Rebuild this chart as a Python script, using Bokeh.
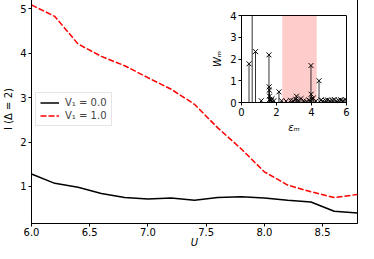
from bokeh.plotting import figure
from bokeh.models import GridBox, Legend, LegendItem, BoxAnnotation, FixedTicker, ColumnDataSource, Range1d, NumeralTickFormatter
from bokeh.embed import file_html
from bokeh.resources import INLINE

# ---------------- data ----------------
U = [6.0, 6.2, 6.4, 6.6, 6.8, 7.0, 7.2, 7.4, 7.6, 7.8, 8.0, 8.2, 8.4, 8.6, 8.8]
I_V0 = [1.28, 1.07, 0.98, 0.84, 0.75, 0.72, 0.74, 0.69, 0.75, 0.77, 0.74, 0.69, 0.65, 0.44, 0.40]
I_V1 = [5.09, 4.83, 4.21, 3.93, 3.72, 3.45, 3.19, 2.85, 2.32, 1.85, 1.33, 1.03, 0.88, 0.75, 0.82]
labels = ["V\u2081 = 0.0", "V\u2081 = 1.0"]
x_ticks = [6.0, 6.5, 7.0, 7.5, 8.0, 8.5]
y_ticks = [1, 2, 3, 4, 5]

eps_m = [0.43, 0.61, 0.80, 1.13, 1.57, 1.58, 1.59, 1.60, 1.61, 1.70, 1.75, 1.85,
         2.14, 2.29, 2.55, 2.80, 2.95, 3.10, 3.14, 3.25, 3.40, 3.55, 3.70, 3.85,
         3.97, 3.98, 4.02, 4.10, 4.25, 4.43, 4.55, 4.65, 4.80, 4.92, 5.05, 5.18,
         5.30, 5.42, 5.55, 5.68, 5.80, 5.92]
W_m = [1.78, 4.60, 2.34, 0.08, 2.19, 0.72, 0.57, 0.29, 0.14, 0.10, 0.18, 0.08,
       0.49, 0.08, 0.06, 0.10, 0.08, 0.15, 0.29, 0.10, 0.18, 0.08, 0.05, 0.12,
       1.70, 0.38, 0.15, 0.20, 0.06, 1.00, 0.12, 0.06, 0.10, 0.12, 0.08, 0.10,
       0.14, 0.07, 0.10, 0.12, 0.09, 0.14]
shade_lo, shade_hi = 2.33, 4.30
inset_x_ticks = [0, 2, 4, 6]
inset_y_ticks = [0, 1, 2, 3, 4]

FONT = "DejaVu Sans"

def style_axes(fig, fs="10px"):
    for ax in fig.axis:
        ax.major_label_text_font = FONT
        ax.major_label_text_font_size = fs
        ax.major_label_text_color = "black"
        ax.axis_label_text_font = FONT
        ax.axis_label_text_font_size = fs
        ax.axis_label_text_color = "black"
        ax.axis_line_color = "black"
        ax.major_tick_line_color = "black"
        ax.minor_tick_line_color = None
        ax.major_tick_out = 3
        ax.major_tick_in = 0
        ax.major_label_standoff = 2
        ax.axis_label_standoff = 3
    fig.xgrid.grid_line_color = None
    fig.ygrid.grid_line_color = None
    fig.outline_line_color = "black"
    fig.outline_line_width = 1
    fig.outline_line_alpha = 1

# ---------------- main figure ----------------
W, H = 358, 257
ymin, ymax = min(I_V0 + I_V1), max(I_V0 + I_V1)
pad = 0.05 * (ymax - ymin)
p = figure(width=W, height=H, output_backend="svg", toolbar_location=None,
           x_range=Range1d(U[0], U[-1]), y_range=Range1d(ymin - pad, ymax + pad),
           min_border_left=22, min_border_right=1, min_border_top=1, min_border_bottom=10)
p.xaxis.ticker = FixedTicker(ticks=x_ticks)
p.yaxis.ticker = FixedTicker(ticks=y_ticks)
p.xaxis.formatter = NumeralTickFormatter(format="0.0")
p.xaxis.axis_label = "U"
p.yaxis.axis_label = "I (\u0394 = 2)"
style_axes(p)
p.xaxis.major_label_standoff = 1
p.xaxis.axis_label_standoff = -2
p.xaxis.axis_label_text_font_style = "italic"
p.yaxis.axis_label_text_font_style = "normal"

r0 = p.line(U, I_V0, line_color="black", line_width=1.5)
r1 = p.line(U, I_V1, line_color="red", line_width=1.5, line_dash="6 2")

legend = Legend(items=[LegendItem(label=labels[0], renderers=[r0]),
                       LegendItem(label=labels[1], renderers=[r1])],
                location="center_left")
legend.label_text_font = FONT
legend.label_text_font_size = "10px"
legend.label_height = 11
legend.glyph_height = 11
legend.glyph_width = 19
legend.spacing = 2
legend.padding = 4
legend.margin = 4
legend.label_standoff = 6
legend.border_line_color = "#cccccc"
legend.border_line_width = 1
legend.background_fill_alpha = 0.8
p.add_layout(legend)

# ---------------- inset ----------------
inset = figure(width=141, height=124, output_backend="svg", toolbar_location=None,
               x_range=Range1d(inset_x_ticks[0], inset_x_ticks[-1]),
               y_range=Range1d(inset_y_ticks[0], inset_y_ticks[-1]),
               min_border_left=26, min_border_right=4, min_border_top=4, min_border_bottom=28)
inset.border_fill_alpha = 0
inset.background_fill_color = "white"
inset.xaxis.ticker = FixedTicker(ticks=inset_x_ticks)
inset.yaxis.ticker = FixedTicker(ticks=inset_y_ticks)
inset.xaxis.axis_label = "\u03b5\u2098"
inset.yaxis.axis_label = "W\u2098"
style_axes(inset)
inset.xaxis.axis_label_text_font_style = "italic"
inset.yaxis.axis_label_text_font_style = "italic"
inset.yaxis.axis_label_standoff = 4

inset.add_layout(BoxAnnotation(left=shade_lo, right=shade_hi, fill_color="red",
                               fill_alpha=0.2, line_color=None, level="underlay"))
src = ColumnDataSource(dict(x=eps_m, y=W_m, y0=[0] * len(W_m)))
inset.segment(x0="x", y0="y0", x1="x", y1="y", source=src, line_color="black", line_width=0.8)
inset.scatter("x", "y", source=src, marker="x", size=7, line_color="black", line_width=1)

grid = GridBox(children=[(p, 0, 0, 3, 3), (inset, 1, 1, 1, 1)],
               rows=["18px", "124px", "115px"], cols=["209px", "141px", "8px"], spacing=0,
               styles={"margin-top": "-7px", "margin-bottom": "-7px"})

open("out.html", "w").write(file_html(grid, INLINE))
